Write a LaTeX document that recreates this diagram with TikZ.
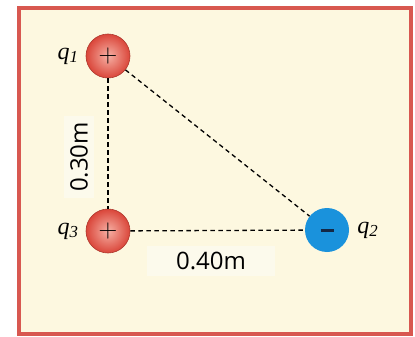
\documentclass[tikz,border=0pt]{standalone}
\usepackage{fontspec}
\newfontfamily\lenfont{Open Sans}
\newfontfamily\namefont{Liberation Serif}
\usetikzlibrary{positioning}
\definecolor{paper}{RGB}{253,248,224}
\definecolor{patch}{RGB}{252,250,236}
\definecolor{framered}{RGB}{216,88,80}
\definecolor{posred}{RGB}{218,70,58}
\definecolor{poslight}{RGB}{246,176,164}
\definecolor{negblue}{RGB}{26,146,220}
\definecolor{negdark}{RGB}{20,40,70}
\tikzset{
  poscharge/.style={circle, minimum size=44pt, inner sep=0pt, draw=posred!80!black, line width=0.6pt,
    inner color=poslight, outer color=posred, font=\fontsize{26}{26}\selectfont},
  negcharge/.style={circle, minimum size=44pt, inner sep=0pt, fill=negblue, text=negdark},
  qlabel/.style={font=\namefont\itshape\fontsize{24}{24}\selectfont, inner sep=1pt},
  lenlabel/.style={font=\lenfont\fontsize{24}{24}\selectfont, fill=patch, inner sep=6pt},
  dashline/.style={line width=1.3pt, dash pattern=on 4.5pt off 3.5pt}
}
\begin{document}
\begin{tikzpicture}[x=1pt,y=-1pt]
\useasboundingbox (0,0) rectangle (415,337);
\fill [white] (0,0) rectangle (415,337);
\fill [paper] (19,8) rectangle (411,334);
\draw [framered, line width=4pt] (19,8) rectangle (411,334);
% distance labels
\node [lenlabel, rotate=90] (d13) at (79,157) {0.30m};
\node [lenlabel, minimum width=128pt] (d32) at (211,261) {0.40m};
% charges
\node [poscharge] (q1) at (108,56) {+};
\node [poscharge] (q3) at (108,231) {+};
\node [negcharge] (q2) at (327,230) {\rule{13pt}{3pt}};
\draw [dashline] (q1) -- (q3);
\draw [dashline] (q1) -- (q2);
\draw [dashline] (q3) -- (q2);
% names
\node [qlabel, left=6pt of q1] (l1) {q\textsubscript{1}};
\node [qlabel, left=6pt of q3] (l3) {q\textsubscript{3}};
\node [qlabel, right=7pt of q2] (l2) {q\textsubscript{2}};
\end{tikzpicture}
\end{document}
